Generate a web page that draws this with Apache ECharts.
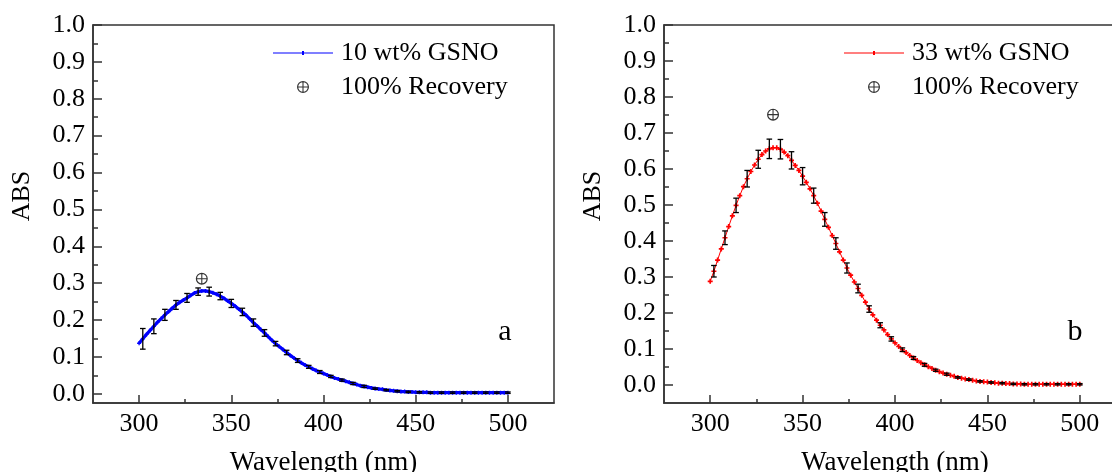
<!DOCTYPE html>
<html><head><meta charset="utf-8">
<script src="https://cdn.jsdelivr.net/npm/echarts@6/dist/echarts.min.js"></script>
<style>html,body{margin:0;padding:0;background:#fff;overflow:hidden}#c{width:1112px;height:472px}</style>
</head><body><div id="c"></div>
<script>
// ---------------- data ----------------
const wavelengths = [
  300,302,304,306,308,310,312,314,316,318,
  320,322,324,326,328,330,332,334,336,338,
  340,342,344,346,348,350,352,354,356,358,
  360,362,364,366,368,370,372,374,376,378,
  380,382,384,386,388,390,392,394,396,398,
  400,402,404,406,408,410,412,414,416,418,
  420,422,424,426,428,430,432,434,436,438,
  440,442,444,446,448,450,452,454,456,458,
  460,462,464,466,468,470,472,474,476,478,
  480,482,484,486,488,490,492,494,496,498,
  500
];
const absGSNO10 = [
  0.137,0.149,0.161,0.172,0.183,0.194,0.204,0.214,0.223,0.232,
  0.241,0.248,0.254,0.260,0.267,0.273,0.277,0.279,0.279,0.277,
  0.274,0.270,0.265,0.259,0.252,0.245,0.238,0.230,0.222,0.213,
  0.203,0.193,0.184,0.174,0.165,0.155,0.145,0.136,0.128,0.120,
  0.112,0.104,0.097,0.090,0.084,0.078,0.073,0.068,0.063,0.059,
  0.055,0.051,0.047,0.043,0.040,0.037,0.034,0.031,0.028,0.025,
  0.022,0.020,0.018,0.016,0.014,0.013,0.012,0.010,0.009,0.008,
  0.007,0.006,0.006,0.005,0.005,0.004,0.004,0.004,0.004,0.003,
  0.003,0.003,0.003,0.003,0.003,0.003,0.003,0.003,0.003,0.003,
  0.003,0.003,0.003,0.003,0.003,0.003,0.003,0.003,0.003,0.003,
  0.003
];
const absGSNO33 = [
  0.288,0.316,0.347,0.378,0.409,0.440,0.470,0.499,0.526,0.551,
  0.573,0.593,0.611,0.627,0.640,0.650,0.656,0.659,0.659,0.655,
  0.647,0.637,0.624,0.610,0.596,0.580,0.563,0.545,0.526,0.505,
  0.483,0.460,0.438,0.415,0.393,0.370,0.347,0.325,0.305,0.286,
  0.268,0.249,0.230,0.211,0.195,0.180,0.166,0.153,0.140,0.128,
  0.117,0.107,0.098,0.090,0.082,0.075,0.068,0.062,0.056,0.051,
  0.046,0.041,0.037,0.033,0.030,0.027,0.024,0.021,0.019,0.017,
  0.015,0.013,0.011,0.010,0.009,0.008,0.007,0.006,0.005,0.005,
  0.004,0.004,0.003,0.003,0.003,0.002,0.002,0.002,0.002,0.002,
  0.002,0.002,0.002,0.002,0.002,0.002,0.002,0.002,0.002,0.002,
  0.002
];
const errWavelengths = [
  302,308,314,320,326,332,338,344,350,356,
  362,368,374,380,386,392,398,404,410,416,
  422,428,434,440,446,452,458,464,470,476,
  482,488,494,500
];
const errGSNO10 = [
  0.028,0.020,0.015,0.012,0.012,0.010,0.012,0.010,0.011,0.010,
  0.010,0.009,0.006,0.006,0.005,0.004,0.004,0.003,0.003,0.003,
  0.003,0.002,0.002,0.002,0.002,0.002,0.002,0.002,0.002,0.002,
  0.002,0.002,0.002,0.002
];
const errGSNO33 = [
  0.016,0.019,0.020,0.023,0.025,0.027,0.027,0.024,0.024,0.021,
  0.019,0.016,0.014,0.012,0.009,0.007,0.006,0.005,0.004,0.004,
  0.003,0.003,0.002,0.002,0.002,0.002,0.002,0.002,0.002,0.002,
  0.002,0.002,0.002,0.002
];
const recovery10 = [[334, 0.312]];
const recovery33 = [[334, 0.751]];
const xMajorTicks = [300, 350, 400, 450, 500];
const xMinorTicks = [325, 375, 425, 475];
const yMajorTicks = [0, 0.1, 0.2, 0.3, 0.4, 0.5, 0.6, 0.7, 0.8, 0.9, 1.0];
const yMinorTicks = [0.05, 0.15, 0.25, 0.35, 0.45, 0.55, 0.65, 0.75, 0.85, 0.95];
const name10 = '10 wt% GSNO';
const name33 = '33 wt% GSNO';
const nameRec = '100% Recovery';
const xTitle = 'Wavelength (nm)';
const yTitle = 'ABS';

// ---------------- styling ----------------
const FONT = "'Liberation Serif', 'Times New Roman', serif";
const AX = '#333';
const OPLUS = 'path://M0,10A10,10,0,1,1,20,10A10,10,0,1,1,0,10ZM2,10A8,8,0,1,0,18,10A8,8,0,1,0,2,10ZM2,9.1L18,9.1L18,10.9L2,10.9ZM9.1,2L10.9,2L10.9,18L9.1,18Z';
const PLUS = 'path://M0,1L3,1L3,2L0,2ZM1,0L2,0L2,3L1,3Z';
const LINEICON = 'path://M0,1.5L60,1.5L60,2.5L0,2.5ZM29,0L31,0L31,4L29,4Z';

const gridL = {left: 93, top: 25, width: 461, height: 378};
const gridR = {left: 664, top: 25, width: 462, height: 378};

function mainX(gi) {
  return {
    gridIndex: gi, type: 'value', min: 275, max: 525, position: 'bottom',
    axisLine: {show: true, onZero: false, lineStyle: {color: AX, width: 1.5}},
    axisTick: {show: true, inside: true, length: 8, customValues: xMajorTicks, lineStyle: {color: AX, width: 1.5}},
    axisLabel: {show: true, customValues: xMajorTicks, margin: 8, fontSize: 26, fontFamily: FONT, color: '#000'},
    splitLine: {show: false},
    name: xTitle, nameLocation: 'middle', nameGap: 46,
    nameTextStyle: {fontSize: 27, fontFamily: FONT, color: '#000'}
  };
}
function minorX(gi) {
  return {
    gridIndex: gi, type: 'value', min: 275, max: 525, position: 'bottom',
    axisLine: {show: false, onZero: false},
    axisTick: {show: true, inside: true, length: 4, customValues: xMinorTicks, lineStyle: {color: AX, width: 1.5}},
    axisLabel: {show: false}, splitLine: {show: false}
  };
}
function mainY(gi, mn) {
  return {
    gridIndex: gi, type: 'value', min: mn, max: 1.0, position: 'left',
    axisLine: {show: true, onZero: false, lineStyle: {color: AX, width: 1.5}},
    axisTick: {show: true, inside: true, length: 9, customValues: yMajorTicks, lineStyle: {color: AX, width: 1.5}},
    axisLabel: {show: true, customValues: yMajorTicks, margin: 8, fontSize: 26, fontFamily: FONT, color: '#000',
      formatter: v => Number(v).toFixed(1)},
    splitLine: {show: false}
  };
}
function minorY(gi, mn) {
  return {
    gridIndex: gi, type: 'value', min: mn, max: 1.0, position: 'left',
    axisLine: {show: false, onZero: false},
    axisTick: {show: true, inside: true, length: 5, customValues: yMinorTicks, lineStyle: {color: AX, width: 1.5}},
    axisLabel: {show: false}, splitLine: {show: false}
  };
}

function pairs(xs, ys) { return xs.map((x, i) => [x, ys[i]]); }
function errData(curve, errs) {
  return errWavelengths.map((w, i) => [w, curve[wavelengths.indexOf(w)], errs[i]]);
}
function renderErr(params, api) {
  const x = api.value(0), y = api.value(1), e = api.value(2);
  const p1 = api.coord([x, y + e]);
  const p2 = api.coord([x, y - e]);
  const hw = 2.8;
  const st = {stroke: '#000', lineWidth: 1.3};
  return {type: 'group', children: [
    {type: 'line', shape: {x1: p1[0], y1: p1[1], x2: p2[0], y2: p2[1]}, style: st},
    {type: 'line', shape: {x1: p1[0] - hw, y1: p1[1], x2: p1[0] + hw, y2: p1[1]}, style: st},
    {type: 'line', shape: {x1: p2[0] - hw, y1: p2[1], x2: p2[0] + hw, y2: p2[1]}, style: st}
  ]};
}
function legendFor(left, lineName) {
  return {
    left: left, top: 40, orient: 'vertical', padding: 0, itemGap: 8,
    itemWidth: 60, itemHeight: 12, selectedMode: false,
    textStyle: {fontSize: 26, fontFamily: FONT, color: '#000', padding: [0, 0, 0, 3]},
    data: [{name: lineName, icon: LINEICON}, {name: nameRec, icon: OPLUS}]
  };
}
function textEl(txt, x, y, size, rot) {
  return {type: 'text', x: x, y: y, rotation: rot || 0, silent: true,
    style: {text: txt, fontSize: size, fontFamily: FONT, fill: '#000',
      align: 'center', verticalAlign: 'middle', textAlign: 'center', textVerticalAlign: 'middle'}};
}

const chart = echarts.init(document.getElementById('c'), null, {renderer: 'canvas'});
chart.setOption({
  animation: false,
  backgroundColor: '#fff',
  grid: [
    Object.assign({show: true, borderColor: AX, borderWidth: 1.5, outerBoundsMode: 'none', containLabel: false}, gridL),
    Object.assign({show: true, borderColor: AX, borderWidth: 1.5, outerBoundsMode: 'none', containLabel: false}, gridR),
    Object.assign({show: false, outerBoundsMode: 'none', containLabel: false}, gridL),
    Object.assign({show: false, outerBoundsMode: 'none', containLabel: false}, gridR)
  ],
  xAxis: [mainX(0), mainX(1), minorX(2), minorX(3)],
  yAxis: [mainY(0, -0.025), mainY(1, -0.05), minorY(2, -0.025), minorY(3, -0.05)],
  legend: [legendFor(273, name10), legendFor(844, name33)],
  graphic: [
    textEl(yTitle, 22.5, 196, 26, Math.PI / 2),
    textEl(yTitle, 593, 196, 26, Math.PI / 2),
    textEl('a', 505, 332, 30),
    textEl('b', 1075, 332, 30)
  ],
  series: [
    {name: name10, type: 'line', xAxisIndex: 0, yAxisIndex: 0, data: pairs(wavelengths, absGSNO10),
      color: '#0000ff', lineStyle: {color: '#0000ff', width: 3.2}, symbol: PLUS, symbolSize: 4,
      itemStyle: {color: '#0000ff'}, z: 2},
    {name: 'err10', type: 'custom', xAxisIndex: 0, yAxisIndex: 0, data: errData(absGSNO10, errGSNO10),
      renderItem: renderErr, z: 3, silent: true},
    {name: nameRec, type: 'scatter', xAxisIndex: 0, yAxisIndex: 0, data: recovery10,
      symbol: OPLUS, symbolSize: 12, itemStyle: {color: '#000'}, z: 4},
    {name: name33, type: 'line', xAxisIndex: 1, yAxisIndex: 1, data: pairs(wavelengths, absGSNO33),
      color: '#ff0000', lineStyle: {color: '#ff0000', width: 1}, symbol: PLUS, symbolSize: 5,
      itemStyle: {color: '#ff0000'}, z: 2},
    {name: 'err33', type: 'custom', xAxisIndex: 1, yAxisIndex: 1, data: errData(absGSNO33, errGSNO33),
      renderItem: renderErr, z: 3, silent: true},
    {name: nameRec, type: 'scatter', xAxisIndex: 1, yAxisIndex: 1, data: recovery33,
      symbol: OPLUS, symbolSize: 12, itemStyle: {color: '#000'}, z: 4}
  ]
});
</script>
</body></html>
